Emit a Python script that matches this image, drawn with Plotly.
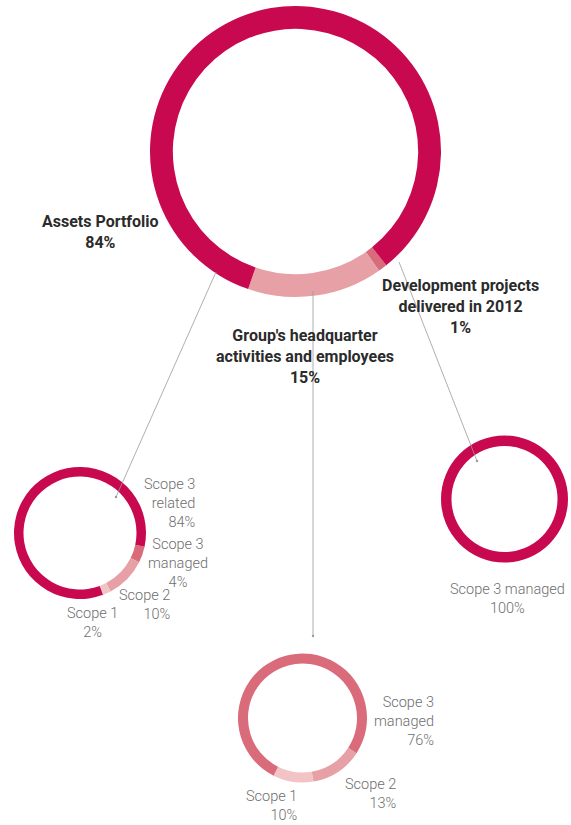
import plotly.graph_objects as go

W, H = 571, 825

DARK = "#C8094F"
MID = "#D96B7B"
LIGHT = "#E6A0A6"
PALE = "#F2C4C6"
TXT_BOLD = "#2B2B2B"
TXT = "#6E6E6E"
LINE = "#9A9A9A"

# big donut (clockwise order)
main_labels = ["Development projects delivered in 2012", "Group's headquarter activities and employees", "Assets Portfolio"]
main_values = [1, 15, 84]
main_colors = [MID, LIGHT, DARK]

# Assets Portfolio breakdown
assets_labels = ["Scope 3 managed", "Scope 2", "Scope 1", "Scope 3 related"]
assets_values = [4, 10, 2, 84]
assets_colors = [MID, LIGHT, PALE, DARK]

# headquarter breakdown
hq_labels = ["Scope 2", "Scope 1", "Scope 3 managed"]
hq_values = [13, 10, 76]
hq_colors = [LIGHT, PALE, MID]

# development projects breakdown
dev_labels = ["Scope 3 managed"]
dev_values = [100]
dev_colors = [DARK]


def dom(cx, cy, r):
    return dict(x=[(cx - r) / W, (cx + r) / W], y=[1 - (cy + r) / H, 1 - (cy - r) / H])


def donut(labels, values, colors, d, hole, rotation):
    return go.Pie(
        labels=labels, values=values, sort=False, direction="clockwise",
        rotation=rotation, hole=hole, domain=d,
        marker=dict(colors=colors, line=dict(width=0)),
        textinfo="none", hoverinfo="label+percent", showlegend=False,
    )


fig = go.Figure()
fig.add_trace(donut(main_labels, main_values, main_colors, dom(295.5, 151.5, 145.5), 0.843, 141.4))
fig.add_trace(donut(assets_labels, assets_values, assets_colors, dom(80, 533, 66), 0.856, 102))
fig.add_trace(donut(hq_labels, hq_values, hq_colors, dom(302.5, 718, 64.5), 0.845, 123))
fig.add_trace(donut(dev_labels, dev_values, dev_colors, dom(504.5, 499, 63.5), 0.835, 0))

# connectors: (x0, y0) -> (x1, y1) with a dot at the end
connectors = [((216, 272), (116, 497)), ((313, 291), (313, 636)), ((399, 262), (477, 461))]
shapes = []
for (x0, y0), (x1, y1) in connectors:
    shapes.append(dict(type="line", xref="x", yref="y", x0=x0, y0=y0, x1=x1, y1=y1,
                       line=dict(color=LINE, width=0.8), layer="above"))
    shapes.append(dict(type="circle", xref="x", yref="y", x0=x1 - 1.2, y0=y1 - 1.2,
                       x1=x1 + 1.2, y1=y1 + 1.2, fillcolor=LINE, line=dict(width=0)))

BOLD = dict(family="Roboto, Arial, sans-serif", size=16, color=TXT_BOLD, weight="bold")
LIGHTF = dict(family="Roboto, Arial, sans-serif", size=14.5, color=TXT, weight=300)

annotations = []


def label(x, y, lines, font, xanchor="center"):
    annotations.append(dict(x=x, y=y, xref="x", yref="y", text="<br>".join(lines),
                            showarrow=False, font=font, xanchor=xanchor, yanchor="middle",
                            align=xanchor if xanchor != "center" else "center"))


label(100, 231.5, ["Assets Portfolio", "84%"], BOLD)
label(460, 306.5, ["Development projects", "delivered in 2012", "1%"], BOLD)
label(305, 356, ["Group's headquarter", "activities and employees", "15%"], BOLD)

label(197, 503.5, ["Scope 3", "related", "84%"], LIGHTF, "right")
label(178, 563, ["Scope 3", "managed", "4%"], LIGHTF)
label(172, 605, ["Scope 2", "10%"], LIGHTF, "right")
label(92, 622.5, ["Scope 1", "2%"], LIGHTF)

label(436, 721.5, ["Scope 3", "managed", "76%"], LIGHTF, "right")
label(398, 793.5, ["Scope 2", "13%"], LIGHTF, "right")
label(299, 805.5, ["Scope 1", "10%"], LIGHTF, "right")

label(507, 599, ["Scope 3 managed", "100%"], LIGHTF)

fig.update_layout(
    width=W, height=H,
    margin=dict(l=0, r=0, t=0, b=0),
    paper_bgcolor="white", plot_bgcolor="rgba(0,0,0,0)",
    xaxis=dict(range=[0, W], visible=False, fixedrange=True),
    yaxis=dict(range=[H, 0], visible=False, fixedrange=True),
    shapes=shapes,
    annotations=annotations,
)

fig.write_html("out.html", config={"displayModeBar": False},
               post_script="document.body.style.margin='0';")
